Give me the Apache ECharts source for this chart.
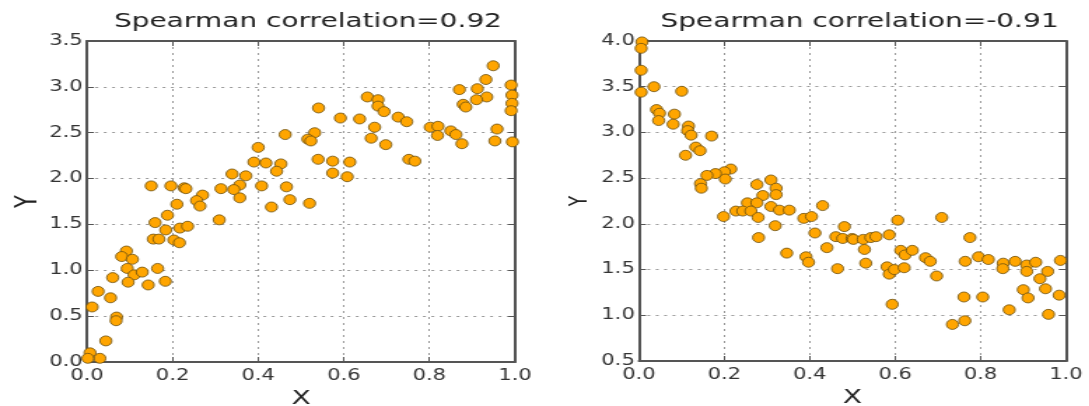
<!DOCTYPE html>
<html>
<head>
<meta charset="utf-8">
<script src="https://cdn.jsdelivr.net/npm/echarts@6/dist/echarts.min.js"></script>
<style>
  html, body { margin: 0; padding: 0; background: #fff; overflow: hidden; }
  #main { height: 406px; transform-origin: 0 0; }
</style>
</head>
<body>
<div id="main"></div>
<script>
// values
var titles = ['Spearman correlation=0.92', 'Spearman correlation=-0.91'];
var xTicks = [0.0, 0.2, 0.4, 0.6, 0.8, 1.0];
var leftYTicks = [0.0, 0.5, 1.0, 1.5, 2.0, 2.5, 3.0, 3.5];
var rightYTicks = [0.5, 1.0, 1.5, 2.0, 2.5, 3.0, 3.5, 4.0];

var lx = [0.463,0.400,0.390,0.418,0.453,0.443,0.339,0.371,0.357,0.343,0.313,0.357,0.408,0.466,0.474,0.431,0.309,
  0.150,0.196,0.227,0.231,0.270,0.256,0.264,0.210,0.188,0.159,0.184,0.217,0.235,0.155,0.168,0.203,0.216,
  0.092,0.081,0.106,0.094,0.110,0.129,0.165,0.096,0.143,0.183,0.060,0.026,0.055,0.012,0.069,0.068,0.044,0.007,0.030,0.002,
  0.949,0.932,0.912,0.870,0.934,0.910,0.879,0.885,0.991,0.993,0.993,0.991,0.958,0.953,0.994,
  0.802,0.820,0.819,0.850,0.862,0.876,0.655,0.680,0.680,0.694,0.727,0.747,0.592,0.637,0.672,0.664,0.698,
  0.541,0.532,0.516,0.523,0.540,0.574,0.614,0.574,0.608,0.752,0.766,0.520];
var ly = [2.48,2.34,2.18,2.17,2.16,2.08,2.05,2.03,1.93,1.88,1.89,1.79,1.92,1.91,1.77,1.69,1.55,
  1.92,1.92,1.90,1.89,1.82,1.76,1.70,1.72,1.60,1.52,1.44,1.46,1.48,1.34,1.34,1.33,1.30,
  1.21,1.15,1.12,1.02,0.95,0.98,1.02,0.87,0.84,0.88,0.92,0.77,0.70,0.60,0.49,0.45,0.23,0.10,0.04,0.04,
  3.23,3.08,2.98,2.97,2.89,2.86,2.81,2.78,3.02,2.91,2.82,2.74,2.54,2.41,2.40,
  2.56,2.57,2.47,2.52,2.48,2.38,2.89,2.86,2.79,2.73,2.67,2.62,2.66,2.65,2.56,2.44,2.37,
  2.77,2.50,2.43,2.41,2.21,2.19,2.18,2.06,2.02,2.21,2.19,1.73];

var rx = [0.007,0.005,0.005,0.005,0.035,0.100,0.041,0.048,0.083,0.046,0.080,0.116,0.114,0.122,0.170,0.133,0.143,0.109,
  0.215,0.200,0.179,0.159,0.202,0.144,0.146,0.276,0.309,0.321,0.290,0.321,0.254,0.276,0.309,0.329,0.352,
  0.227,0.243,0.262,0.198,0.279,0.319,0.280,0.386,0.404,0.430,0.412,0.346,0.391,0.397,0.440,0.461,0.481,0.477,0.499,0.465,
  0.502,0.525,0.543,0.555,0.586,0.606,0.709,0.528,0.531,0.613,0.623,0.640,0.671,0.682,0.581,0.586,0.598,0.621,0.697,0.593,
  0.775,0.764,0.795,0.818,0.853,0.852,0.881,0.908,0.929,0.908,0.939,0.957,0.987,0.900,0.911,0.952,0.984,
  0.761,0.805,0.867,0.959,0.734,0.763];
var ry = [3.99,3.92,3.68,3.44,3.50,3.45,3.25,3.21,3.20,3.13,3.09,3.07,3.02,2.97,2.96,2.84,2.80,2.75,
  2.60,2.57,2.55,2.53,2.49,2.44,2.39,2.43,2.48,2.39,2.31,2.32,2.23,2.23,2.19,2.15,2.15,
  2.14,2.14,2.14,2.08,2.07,1.98,1.85,2.06,2.08,2.20,1.90,1.68,1.64,1.58,1.74,1.86,1.97,1.84,1.84,1.51,
  1.83,1.83,1.85,1.86,1.88,2.04,2.07,1.72,1.57,1.71,1.66,1.71,1.63,1.59,1.53,1.45,1.50,1.52,1.43,1.12,
  1.85,1.59,1.64,1.61,1.57,1.51,1.59,1.55,1.58,1.48,1.40,1.48,1.60,1.28,1.19,1.29,1.22,
  1.20,1.20,1.06,1.01,0.90,0.94];

// the reference is stretched sideways, so draw narrow and stretch the canvas
var SX = 1.4;
var W = 1089;
var box = document.getElementById('main');
box.style.width = (W / SX) + 'px';
box.style.transform = 'scaleX(' + SX + ')';

var FONT = 'DejaVu Sans';
var frame = '#555';

function fmt(v) { return v.toFixed(1); }

function pair(v, i) { return [v, this[i]]; }

function mainX(idx) {
  return {
    type: 'value', gridIndex: idx, position: 'bottom',
    min: xTicks[0], max: xTicks[xTicks.length - 1], interval: 0.2,
    name: 'X', nameLocation: 'middle', nameGap: 21,
    nameTextStyle: { fontFamily: FONT, fontSize: 20, color: '#222' },
    axisLine: { onZero: false, lineStyle: { color: frame, width: 2 } },
    axisTick: { inside: true, length: 5, lineStyle: { color: frame } },
    axisLabel: { fontFamily: FONT, fontSize: 15, color: '#333', margin: 7, formatter: fmt },
    splitLine: { show: true, lineStyle: { color: '#999', type: [2, 4], width: 1 } }
  };
}
function topX(idx) {
  return {
    type: 'value', gridIndex: idx, position: 'top',
    min: xTicks[0], max: xTicks[xTicks.length - 1], interval: 0.2,
    axisLine: { onZero: false, lineStyle: { color: frame, width: 2 } },
    axisTick: { inside: true, length: 5, lineStyle: { color: frame } },
    axisLabel: { show: false }, splitLine: { show: false }
  };
}
function mainY(idx, ticks, nameSize, gap) {
  return {
    type: 'value', gridIndex: idx, position: 'left',
    min: ticks[0], max: ticks[ticks.length - 1], interval: 0.5,
    name: 'Y', nameLocation: 'middle', nameGap: gap, nameRotate: 90,
    nameTextStyle: { fontFamily: FONT, fontSize: nameSize, color: '#222' },
    axisLine: { onZero: false, lineStyle: { color: frame, width: 2 } },
    axisTick: { inside: true, length: 5, lineStyle: { color: frame } },
    axisLabel: { fontFamily: FONT, fontSize: 15, color: '#333', margin: 3, formatter: fmt },
    splitLine: { show: true, lineStyle: { color: '#999', type: [2, 4], width: 1 } }
  };
}
function rightY(idx, ticks) {
  return {
    type: 'value', gridIndex: idx, position: 'right',
    min: ticks[0], max: ticks[ticks.length - 1], interval: 0.5,
    axisLine: { onZero: false, lineStyle: { color: frame, width: 2 } },
    axisTick: { inside: true, length: 5, lineStyle: { color: frame } },
    axisLabel: { show: false }, splitLine: { show: false }
  };
}

var dot = {
  color: '#FFA500',
  opacity: 1,
  borderColor: '#6b5010',
  borderWidth: 0.8
};

var myChart = echarts.init(box);
var option = {
  animation: false,
  backgroundColor: '#fff',
  title: [
    { text: titles[0], left: 301 / SX, top: 7, textAlign: 'center',
      textStyle: { fontFamily: FONT, fontSize: 20, fontWeight: 'normal', color: '#222' } },
    { text: titles[1], left: 852.5 / SX, top: 7, textAlign: 'center',
      textStyle: { fontFamily: FONT, fontSize: 20, fontWeight: 'normal', color: '#222' } }
  ],
  grid: [
    { left: 87 / SX, top: 41, width: 428 / SX, height: 321, outerBoundsMode: 'none' },
    { left: 639 / SX, top: 41, width: 427 / SX, height: 320, outerBoundsMode: 'none' }
  ],
  xAxis: [mainX(0), topX(0), mainX(1), topX(1)],
  yAxis: [mainY(0, leftYTicks, 21, 31), rightY(0, leftYTicks), mainY(1, rightYTicks, 17, 33), rightY(1, rightYTicks)],
  series: [
    { type: 'scatter', xAxisIndex: 0, yAxisIndex: 0, symbolSize: [8.5, 10],
      data: lx.map(pair, ly), itemStyle: dot },
    { type: 'scatter', xAxisIndex: 2, yAxisIndex: 2, symbolSize: [8.5, 10],
      data: rx.map(pair, ry), itemStyle: dot }
  ]
};
myChart.setOption(option);
</script>
</body>
</html>
